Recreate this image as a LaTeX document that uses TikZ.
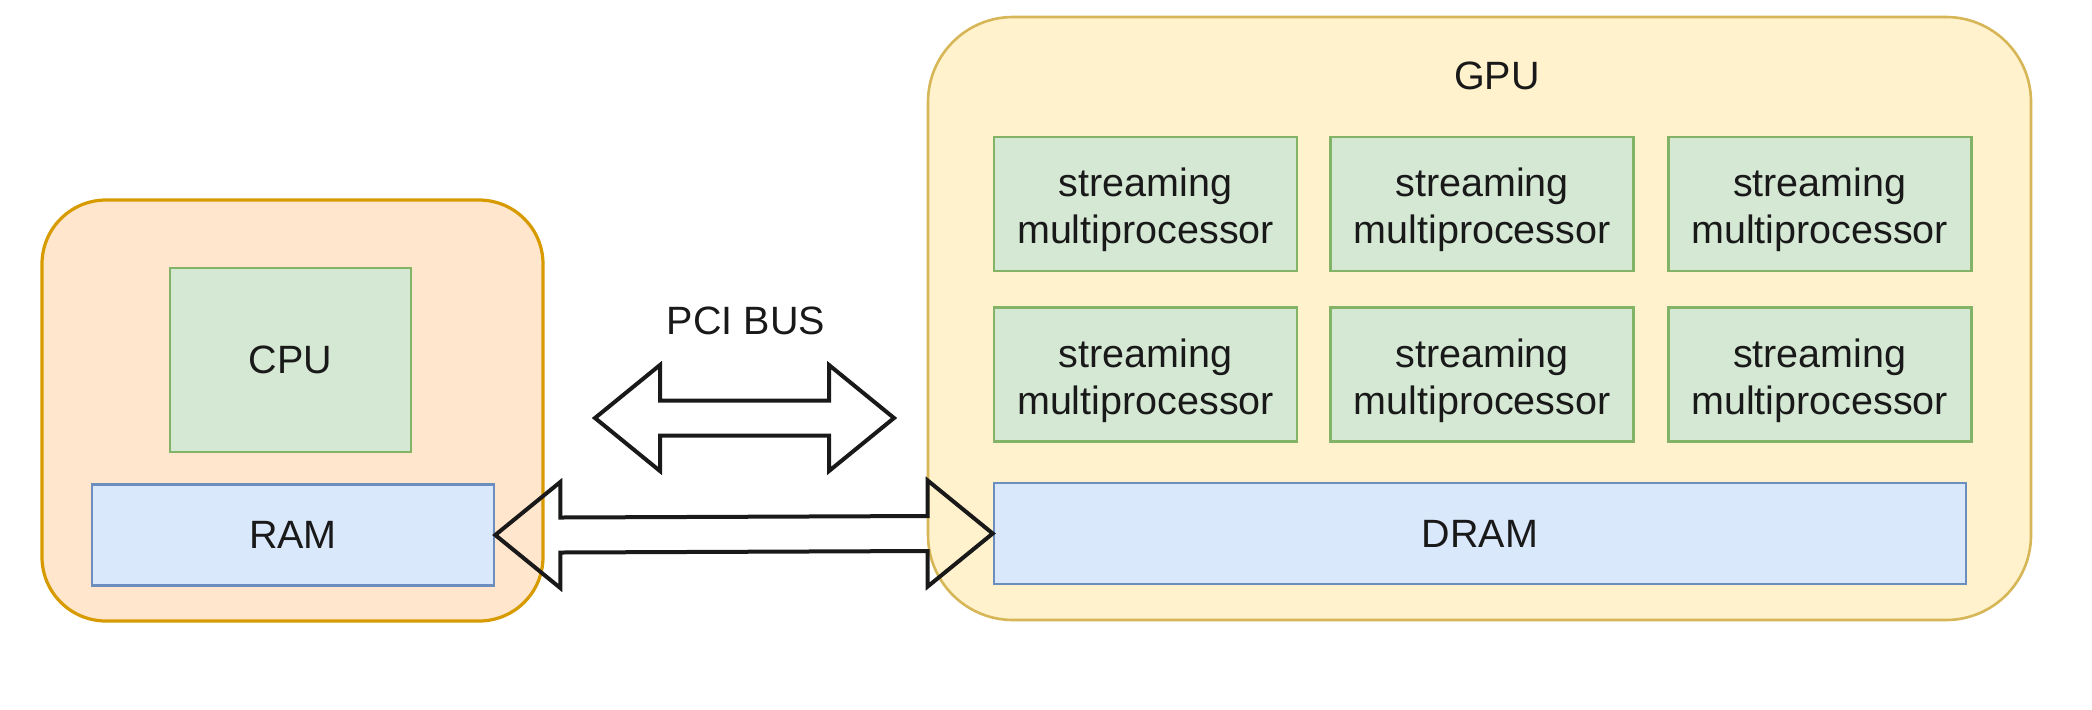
\documentclass[tikz,border=0pt]{standalone}
\usepackage{fontspec}
\setmainfont{Liberation Sans}
\usepackage{tikz}
\usetikzlibrary{positioning,calc}
\definecolor{hostfill}{HTML}{FFE6CC}
\definecolor{hostline}{HTML}{D79B00}
\definecolor{gpufill}{HTML}{FFF2CC}
\definecolor{gpuline}{HTML}{D6B656}
\definecolor{smfill}{HTML}{D5E8D4}
\definecolor{smline}{HTML}{82B366}
\definecolor{memfill}{HTML}{DAE8FC}
\definecolor{memline}{HTML}{6C8EBF}
\newcommand\smtext{\rule{0pt}{20.5pt}streaming\\multiprocessor}

\begin{document}
\begin{tikzpicture}[
  x=0.5pt,y=-0.5pt,
  every node/.style={font=\fontsize{19.75}{23.5}\selectfont,text=black!90,inner sep=0pt},
  hostbox/.style={draw=hostline,fill=hostfill,line width=1.6pt,rounded corners=32pt,minimum width=250.5pt,minimum height=210.5pt},
  gpubox/.style={draw=gpuline,fill=gpufill,line width=1.3pt,rounded corners=42.5pt,minimum width=551.5pt,minimum height=301.5pt},
  smbox/.style={draw=smline,fill=smfill,line width=1.3pt,align=center,minimum width=151.5pt,minimum height=67pt},
  membox/.style={draw=memline,fill=memfill,line width=1.3pt,minimum height=50.5pt},
  fat/.style={draw=black!90,line width=2pt,line join=miter}
]
\useasboundingbox (0,0) rectangle (2092,709);
% host side
\node[hostbox] (host) at (292.5,410.5) {};
\node[smbox,minimum width=120.5pt,minimum height=92pt] (cpu) at (290.5,360) {CPU};
\node[membox,minimum width=201pt] (ram) at (293,535) {RAM};
% device side
\node[gpubox] (gpu) at (1479.5,318.5) {};
\node (gpulabel) at (1497,76) {GPU};
\node[smbox] (sm1) at (1145.5,204) {\smtext};
\node[smbox,right=15.5pt of sm1] (sm2) {\smtext};
\node[smbox,right=16pt of sm2] (sm3) {\smtext};
\node[smbox,below=17pt of sm1] (sm4) {\smtext};
\node[smbox,right=15.5pt of sm4] (sm5) {\smtext};
\node[smbox,right=16pt of sm5] (sm6) {\smtext};
\node[membox,minimum width=486pt] (dram) at (1480,533.5) {DRAM};
% bus
\node (pcilabel) at (746,321) {PCI BUS};
\coordinate (pciL) at (595,418);
\coordinate (pciR) at (894,418);
\foreach \a/\b in {pciL/pciR,ram.east/dram.west}
  \draw[fat] (\a) -- ($(\a)+(65,-53)$) -- ($(\a)+(65,-17.5)$) -- ($(\b)+(-65,-17.5)$)
    -- ($(\b)+(-65,-53)$) -- (\b) -- ($(\b)+(-65,53)$) -- ($(\b)+(-65,17.5)$)
    -- ($(\a)+(65,17.5)$) -- ($(\a)+(65,53)$) -- cycle;
\end{tikzpicture}
\end{document}
